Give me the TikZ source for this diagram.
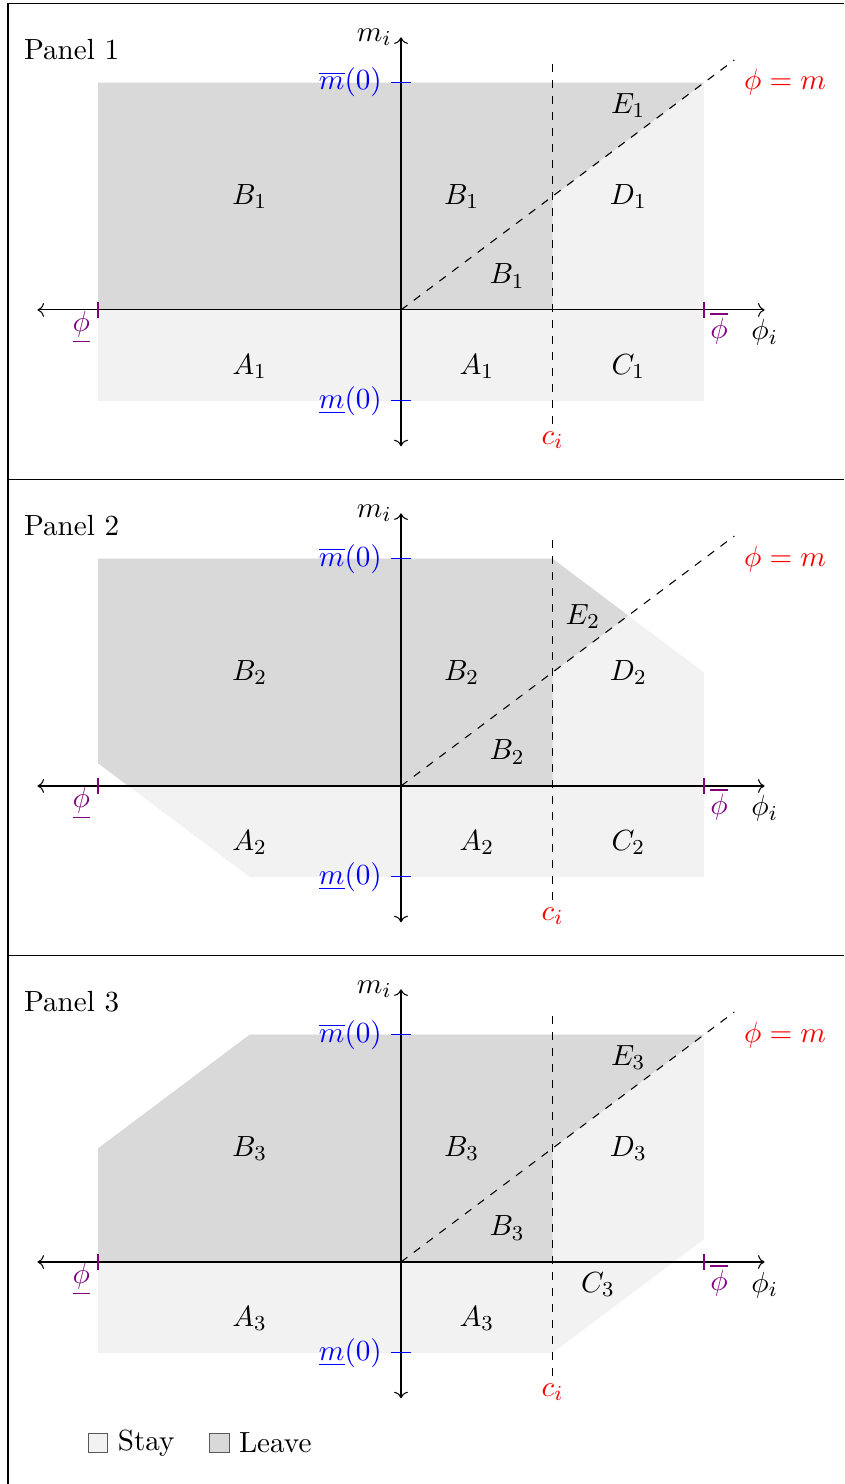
\documentclass[tikz,border=0pt]{standalone}
\usepackage{amsmath,amssymb}
\usepackage{xcolor}
\usetikzlibrary{positioning, arrows.meta}

\begin{document}
\begin{tikzpicture}[
  every node/.style={font=\fontsize{10.95}{13.6}\selectfont},
  stay/.style={fill=gray!10},
  leave/.style={fill=gray!30},
  axis/.style={<->},
  guide/.style={dashed},
  mtick/.style={blue},
  ptick/.style={violet},
  region/.style={inner sep=1pt},
  legbox/.style={draw=gray!70!black, minimum size=2.6mm, inner sep=0pt},
]
\useasboundingbox (-5.294,-15.499) rectangle (5.848,4.092);
% frame of the three panels
\draw (5.848,4.04) -- (-5.188,4.04) -- (-5.188,-15.499);
\draw (-5.188,-2.244) -- (5.848,-2.244);
\draw (-5.188,-8.528) -- (5.848,-8.528);

% panel 1 regions
\fill[stay] (-4,-1.2) rectangle (4,3);
\fill[leave] (-4,0) -- (2,0) -- (2,1.5) -- (4,3) -- (-4,3) -- cycle;
% panel 2 regions
\begin{scope}[yshift=-6.284cm]
\fill[stay] (-4,0.3) -- (-4,3) -- (2,3) -- (4,1.5) -- (4,-1.2) -- (-2,-1.2) -- cycle;
\fill[leave] (-3.6,0) -- (-4,0.3) -- (-4,3) -- (2,3) -- (3,2.25) -- (2,1.5) -- (2,0) -- cycle;
\end{scope}
% panel 3 regions
\begin{scope}[yshift=-12.568cm]
\fill[stay] (-4,-1.2) -- (-4,1.5) -- (-2,3) -- (4,3) -- (4,0.3) -- (2,-1.2) -- cycle;
\fill[leave] (-4,0) -- (-4,1.5) -- (-2,3) -- (4,3) -- (2,1.5) -- (2,0) -- cycle;
\end{scope}

% axes, ticks and labels
\foreach \k/\y/\ex/\ey/\cx/\cy in {1/0/3/2.7/3/-0.75, 2/-6.284/2.4/2.24/3/-0.75, 3/-12.568/3/2.7/2.6/-0.3} {
  \begin{scope}[yshift=\y cm]
  \coordinate (O\k) at (0,0);
  \coordinate (xl\k) at (-4.8,0);
  \coordinate (xr\k) at (4.8,0);
  \coordinate (yb\k) at (0,-1.8);
  \coordinate (yt\k) at (0,3.6);
  \coordinate (cb\k) at (2,-1.5);
  \coordinate (ct\k) at (2,3.25);
  \coordinate (pm\k) at (4.4,3.3);
  \node[anchor=west] (title\k) at (-5.1,3.44) {Panel \k};
  \draw[axis] (xl\k) -- (xr\k);
  \draw[axis] (yb\k) -- (yt\k);
  \draw[guide] (cb\k) -- (ct\k);
  \draw[guide] (O\k) -- (pm\k);
  \draw[mtick] (-0.13,3) -- (0.13,3);
  \draw[mtick] (-0.13,-1.2) -- (0.13,-1.2);
  \draw[ptick] (-4,-0.1) -- (-4,0.1);
  \draw[ptick] (4,-0.1) -- (4,0.1);
  \node[left] (mi\k) at (0,3.6) {$m_i$};
  \node[left, blue] (mhi\k) at (-0.13,3) {$\overline{m}(0)$};
  \node[left, blue] (mlo\k) at (-0.13,-1.2) {$\underline{m}(0)$};
  \node[violet] (plo\k) at (-4.22,-0.23) {$\underline{\phi}$};
  \node[violet] (phi\k) at (4.2,-0.24) {$\overline{\phi}$};
  \node (pi\k) at (4.8,-0.3) {$\phi_i$};
  \node[red] (ci\k) at (2,-1.72) {$c_i$};
  \node[red] (pml\k) at (5.07,3) {$\phi = m$};
  % regions
  \node[region] (Bl\k) at (-2,1.5) {$B_\k$};
  \node[region] (Bm\k) at (0.8,1.5) {$B_\k$};
  \node[region] (Bs\k) at (1.4,0.45) {$B_\k$};
  \node[region] (D\k) at (3,1.5) {$D_\k$};
  \node[region] (E\k) at (\ex,\ey) {$E_\k$};
  \node[region] (C\k) at (\cx,\cy) {$C_\k$};
  \node[region] (Al\k) at (-2,-0.75) {$A_\k$};
  \node[region] (Am\k) at (1,-0.75) {$A_\k$};
  \end{scope}
}

% legend
\node[legbox, stay] (kstay) at (-4,-14.957) {};
\node[right=0pt of kstay] (lstay) {Stay};
\node[legbox, leave] (kleave) at (-2.4,-14.957) {};
\node[right=0pt of kleave] (lleave) {Leave};
\end{tikzpicture}
\end{document}
